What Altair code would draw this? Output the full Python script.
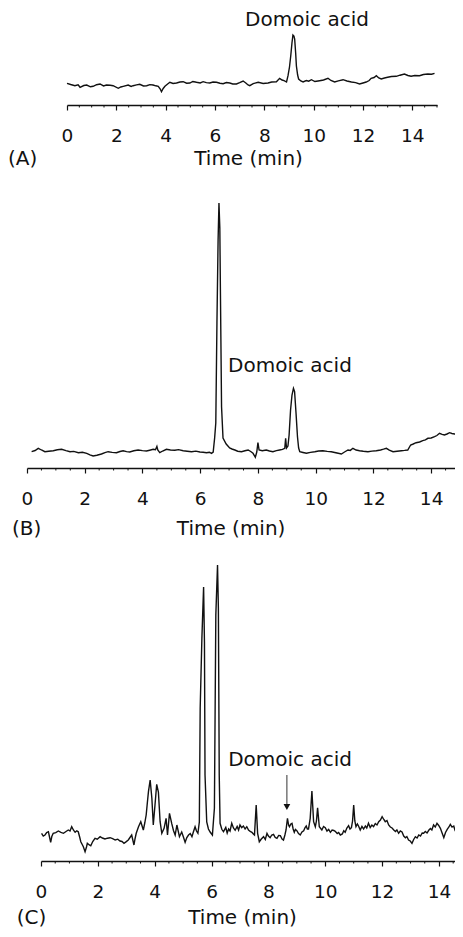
import altair as alt
import pandas as pd

# ---------------- data (retention time in min, detector response in arbitrary units) -------------
A_time = [0.0, 0.15, 0.32, 0.45, 0.53, 0.68, 0.8, 0.95, 1.06, 1.2, 1.34, 1.48, 1.6, 1.75, 1.87,
          2.08, 2.18, 2.28, 2.48, 2.6, 2.68, 2.82, 2.95, 3.1, 3.23, 3.36, 3.49, 3.6, 3.7, 3.78,
          3.83, 3.9, 3.97, 4.08, 4.17, 4.3, 4.44, 4.58, 4.71, 4.85, 4.98, 5.1, 5.25, 5.4, 5.52,
          5.65, 5.79, 5.92, 6.06, 6.2, 6.33, 6.46, 6.6, 6.72, 6.87, 7.0, 7.14, 7.25, 7.34, 7.41,
          7.55, 7.75, 7.95, 8.15, 8.3, 8.49, 8.62, 8.72, 8.8, 8.9, 8.96, 9.02, 9.07, 9.12, 9.16,
          9.2, 9.23, 9.27, 9.3, 9.35, 9.39, 9.48, 9.57, 9.7, 9.8, 9.91, 10.05, 10.24, 10.4, 10.58,
          10.7, 10.85, 11.0, 11.19, 11.35, 11.53, 11.7, 11.86, 12.0, 12.13, 12.25, 12.33, 12.45,
          12.54, 12.64, 12.74, 12.87, 13.0, 13.15, 13.35, 13.5, 13.68, 13.82, 13.95, 14.1, 14.29,
          14.45, 14.63, 14.78, 14.9]
A_resp = [21.7, 20.5, 19.3, 20.2, 17.7, 19.5, 20, 18.2, 18.7, 20.3, 21, 19.1, 20, 19.8, 19.3,
          16.7, 18.0, 18.7, 20, 18.6, 19.3, 20.1, 20.7, 19.0, 19.3, 20.4, 20, 19.2, 18.7, 16.0,
          13.3, 16.5, 18.7, 21.0, 22.7, 21.5, 22, 23.0, 23.3, 21.8, 22, 23.5, 22.7, 22.0, 23.3,
          22.4, 22, 23.0, 22.7, 21.8, 21.3, 22.5, 22, 21.0, 21, 22.3, 24, 22.0, 20, 19.3,
          21.4, 22.7, 21.5, 22, 23.0, 23.3, 26.7, 25.0, 24.3, 23, 29.3, 38, 49, 62, 70,
          69, 66, 52, 39, 30, 26, 24.0, 23, 24.5, 23.8, 25.3, 23.5, 24.3, 25.0, 26.7,
          24.5, 23, 24.2, 25.3, 24.0, 23, 22.4, 21, 22.0, 23, 24.5, 26.7, 27.5,
          29.3, 27.0, 26, 27.0, 27.7, 28.5, 28.7, 29.8, 31, 29.5, 28.7, 29.5, 29.3,
          30.5, 31, 30.8, 31.7]

B_time = [0.16, 0.28, 0.39, 0.5, 0.62, 0.75, 0.91, 1.05, 1.2, 1.35, 1.49, 1.62, 1.78, 1.92, 2.07,
          2.18, 2.29, 2.42, 2.58, 2.7, 2.81, 2.95, 3.1, 3.22, 3.33, 3.45, 3.56, 3.7, 3.85, 4.0,
          4.14, 4.25, 4.37, 4.45, 4.5, 4.53, 4.6, 4.7, 4.83, 4.97, 5.12, 5.25, 5.41, 5.55, 5.7,
          5.85, 5.99, 6.1, 6.22, 6.32, 6.39, 6.45, 6.5, 6.54, 6.58, 6.62, 6.65, 6.68, 6.7, 6.74,
          6.79, 6.9, 7.02, 7.1, 7.2, 7.3, 7.43, 7.55, 7.66, 7.75, 7.83, 7.91, 7.96, 8.0, 8.04,
          8.15, 8.29, 8.4, 8.52, 8.64, 8.75, 8.85, 8.93, 8.96, 8.99, 9.04, 9.08, 9.13, 9.18, 9.23,
          9.25, 9.27, 9.32, 9.37, 9.41, 9.45, 9.56, 9.68, 9.82, 9.97, 10.1, 10.25, 10.4, 10.54,
          10.7, 10.89, 11.0, 11.12, 11.2, 11.29, 11.4, 11.52, 11.65, 11.81, 11.95, 12.1, 12.25,
          12.35, 12.45, 12.55, 12.68, 12.82, 12.97, 13.08, 13.19, 13.29, 13.38, 13.48, 13.6,
          13.71, 13.8, 13.89, 14.0, 14.12, 14.2, 14.29, 14.38, 14.46, 14.55, 14.64, 14.72, 14.81,
          14.9, 14.98]
B_resp = [16.3, 17.5, 19.7, 18.0, 16.3, 16.8, 17.3, 18.2, 18.7, 17.4, 16.3, 16.6, 15.3, 15.8, 14.7,
          13.2, 12, 12.8, 14, 15.4, 16.3, 15.6, 15.3, 16.5, 17.3, 16.4, 16, 17.2, 18, 17.4,
          17, 17.8, 18.7, 18.2, 21.5, 18.0, 15.3, 17.0, 18.7, 18.0, 17.7, 18.4, 17.3, 16.8, 16.3,
          16.9, 16, 15.8, 15.3, 15.8, 14.7, 16, 30, 45, 145, 228, 265, 240, 178, 61,
          30, 24, 20, 19.0, 18, 16.8, 16.3, 17.2, 18, 16.5, 14.7, 10.7, 16.0, 25.3, 18,
          17.2, 18, 17.0, 16.3, 17.4, 18, 18.6, 19.7, 29.7, 20.0, 22, 33, 58, 73, 79.7,
          78, 76.3, 54.7, 31.3, 20, 16.3, 15.5, 14.7, 15.6, 16.3, 17.0, 17.3, 16.6, 16.3,
          15.2, 14, 16.0, 18, 17.6, 19.7, 18.0, 17.3, 16.8, 16.3, 16.9, 17.3, 18.0,
          18.8, 19.7, 17.8, 16.3, 16.8, 17.3, 17.6, 18, 23, 24.0, 25.3, 26.0,
          27.3, 28.2, 29.7, 30.0, 31.3, 32.5, 34.7, 33.6, 33, 34.0, 35.3, 34.5, 34,
          33.8, 33]

C_time = [0.02, 0.08, 0.14, 0.2, 0.26, 0.3, 0.34, 0.38, 0.43, 0.52, 0.61, 0.7, 0.79, 0.88, 0.96,
          1.02, 1.08, 1.14, 1.2, 1.26, 1.31, 1.36, 1.4, 1.45, 1.49, 1.55, 1.6, 1.63, 1.7, 1.75,
          1.82, 1.9, 1.98, 2.08, 2.16, 2.25, 2.34, 2.43, 2.52, 2.61, 2.7, 2.78, 2.85, 2.92, 3.0,
          3.07, 3.13, 3.19, 3.23, 3.27, 3.31, 3.35, 3.43, 3.51, 3.6, 3.65, 3.7, 3.74, 3.78, 3.84,
          3.9, 3.95, 4.01, 4.07, 4.13, 4.19, 4.25, 4.33, 4.4, 4.45, 4.52, 4.6, 4.66, 4.72, 4.78,
          4.87, 4.95, 5.01, 5.07, 5.13, 5.19, 5.25, 5.31, 5.36, 5.42, 5.47, 5.52, 5.57, 5.6, 5.66,
          5.72, 5.75, 5.77, 5.83, 5.89, 5.95, 6.03, 6.1, 6.15, 6.21, 6.24, 6.27, 6.3, 6.36, 6.42,
          6.5, 6.55, 6.6, 6.65, 6.71, 6.77, 6.83, 6.9, 6.95, 7.0, 7.06, 7.12, 7.18, 7.24, 7.3,
          7.36, 7.42, 7.47, 7.51, 7.57, 7.62, 7.68, 7.75, 7.83, 7.89, 7.95, 8.0, 8.06, 8.12, 8.18,
          8.24, 8.3, 8.36, 8.42, 8.48, 8.53, 8.58, 8.62, 8.67, 8.71, 8.74, 8.79, 8.83, 8.87, 8.91,
          8.95, 9.0, 9.06, 9.12, 9.18, 9.24, 9.29, 9.33, 9.37, 9.41, 9.47, 9.53, 9.59, 9.65, 9.69,
          9.73, 9.79, 9.84, 9.88, 9.94, 10.0, 10.06, 10.12, 10.18, 10.24, 10.3, 10.35, 10.42,
          10.47, 10.53, 10.6, 10.65, 10.7, 10.76, 10.82, 10.87, 10.92, 10.96, 11.0, 11.04, 11.08,
          11.13, 11.17, 11.23, 11.29, 11.35, 11.41, 11.46, 11.52, 11.58, 11.64, 11.7, 11.76,
          11.82, 11.88, 11.94, 12.0, 12.06, 12.11, 12.17, 12.23, 12.29, 12.35, 12.41, 12.47,
          12.52, 12.58, 12.64, 12.7, 12.76, 12.82, 12.87, 12.93, 12.99, 13.05, 13.11, 13.17,
          13.23, 13.29, 13.35, 13.41, 13.46, 13.52, 13.58, 13.64, 13.7, 13.75, 13.81, 13.87,
          13.93, 13.99, 14.05, 14.11, 14.17, 14.23, 14.29, 14.35, 14.4, 14.46, 14.52, 14.56,
          14.6, 14.65, 14.7, 14.75, 14.79]
C_resp = [27.7, 25.0, 26, 28.5, 29.3, 24.0, 18.7, 24.5, 27.7, 28.4, 30, 28.6, 27.7, 29.5, 31,
          30.0, 34.3, 31.0, 28.7, 30.2, 29.3, 24.0, 19.3, 16.5, 14.3, 9.3, 14.0, 17.7, 16.0, 15.3,
          19.5, 22.7, 21.8, 24.3, 23.0, 22, 22.8, 23.3, 22.4, 21, 21.8, 20, 19.5, 17.7, 19.4,
          21, 23.5, 26, 21.0, 16, 22.5, 27.7, 34.3, 39.3, 31, 38.0, 46, 58, 69.3, 81,
          62.7, 36, 56, 76.7, 69, 39.3, 27.7, 32.7, 42.7, 26, 47.7, 37.3, 30.5, 26, 36,
          24.3, 29, 24.0, 18.7, 23.5, 26, 27.5, 24.3, 29.0, 34.3, 30.0, 27.7, 39, 153, 223,
          274, 219, 86, 39, 32.0, 29, 26, 52.7, 246, 296, 252.7, 86, 37.7, 31.7, 29.3,
          33.5, 28.0, 32, 30.0, 37.7, 33.0, 30.7, 34.5, 31.0, 36, 33.4, 35.0, 32, 34.3, 31,
          29.5, 28.7, 27.0, 26, 56, 27.7, 19.3, 22.0, 24.3, 21.5, 27.7, 25.0, 23.3, 26.0, 26.7,
          23.5, 22.7, 25.6, 25.3, 22.0, 21, 26.0, 31, 42.7, 36.0, 34.3, 37.0, 37.7, 32.0, 28.7,
          31.5, 30.3, 27.5, 26, 29.0, 30.3, 33.5, 35, 32.0, 32, 42.7, 70, 39.3, 34.3, 40.0,
          53.3, 34.3, 32.5, 31, 34.5, 33.3, 30.0, 31.6, 28.7, 31.0, 30.5, 29.7, 27.5,
          28.5, 26, 27.0, 30.2, 28.7, 33.0, 35.3, 32.0, 33.3, 40.0, 56, 40.0, 34.3,
          37.0, 35, 31.0, 34.5, 32, 35.0, 33.0, 37.7, 33.5, 36.0, 34.3, 37.5,
          36.0, 39.3, 41.0, 44.3, 41.5, 39.3, 40.5, 36, 34.0, 33.0, 31, 29.5,
          31.0, 27.7, 30.0, 29, 25.0, 23.3, 24.5, 21, 20.0, 17.7, 21.5, 24.3,
          23.0, 26, 25.0, 28.0, 27.7, 29.5, 28.0, 30.7, 32.5, 31.0, 36, 34.0,
          37.7, 35.5, 32.7, 28.0, 23.3, 28.5, 31.7, 34.0, 36.7, 34.0, 35, 31.0,
          28.7, 30.5, 32.7, 36.5, 39.3]

major_ticks = [0, 2, 4, 6, 8, 10, 12, 14]
minor_ticks = [0.5, 1, 1.5, 2.5, 3, 3.5, 4.5, 5, 5.5, 6.5, 7, 7.5, 8.5, 9, 9.5,
               10.5, 11, 11.5, 12.5, 13, 13.5, 14.5, 15]

# annotations (time, response)
A_notes = {"t": [9.73], "h": [79], "text": ["Domoic acid"]}
B_notes = {"t": [9.11], "h": [96], "text": ["Domoic acid"]}
C_notes = {"t": [8.76], "h": [95], "text": ["Domoic acid"]}
C_arrow = {"t": [8.65], "top": [86], "bottom": [57], "head": [54]}

panel_letters = ["(A)", "(B)", "(C)"]
axis_title = "Time (min)"

# ---------------- layout ----------------
W, H = 447, 921
FONT = "DejaVu Sans"
FS_TEXT = 20
FS_TICK = 18.5
INK = "#111111"


def panel(times, resp, notes, letter, xr, axis_y, title_t, letter_t, title_h, arrow=None):
    """Return a list of flat layers; every layer carries the same explicit scales."""
    xs = alt.Scale(domain=[0, 15], range=xr, nice=False, zero=False)
    ys = alt.Scale(domain=[0, 100], range=[axis_y, axis_y - 100], nice=False, zero=False)

    def X(f):
        return alt.X(f, scale=xs, axis=None)

    def Y(f):
        return alt.Y(f, scale=ys, axis=None)

    df = pd.DataFrame({"t": times, "h": resp})
    trace = alt.Chart(df).mark_line(color=INK, strokeWidth=1.4).encode(
        x=alt.X("t:Q", scale=xs, axis=alt.Axis(
            orient="bottom", offset=axis_y - H, values=major_ticks, title=None,
            domain=True, domainColor=INK, domainWidth=1.5,
            tickSize=5, tickWidth=1.2, tickColor=INK,
            labelFont=FONT, labelFontSize=FS_TICK, labelColor=INK,
            labelPadding=16, labelFlush=False, labelOverlap=False, grid=False)),
        y=Y("h:Q"),
    )
    minor = alt.Chart(pd.DataFrame({"t": minor_ticks, "h": [0] * len(minor_ticks),
                                    "h2": [-2.5] * len(minor_ticks)})).mark_rule(
        color=INK, strokeWidth=1).encode(x=X("t:Q"), y=Y("h:Q"), y2="h2:Q")
    label = alt.Chart(pd.DataFrame(notes)).mark_text(
        font=FONT, fontSize=FS_TEXT, color=INK, align="center", baseline="alphabetic").encode(
        x=X("t:Q"), y=Y("h:Q"), text="text:N")
    title = alt.Chart(pd.DataFrame({"t": [title_t], "h": [title_h], "text": [axis_title]})).mark_text(
        font=FONT, fontSize=FS_TEXT, color=INK, align="center", baseline="alphabetic").encode(
        x=X("t:Q"), y=Y("h:Q"), text="text:N")
    tag = alt.Chart(pd.DataFrame({"t": [letter_t], "h": [title_h], "text": [letter]})).mark_text(
        font=FONT, fontSize=FS_TEXT, color=INK, align="left", baseline="alphabetic").encode(
        x=X("t:Q"), y=Y("h:Q"), text="text:N")
    layers = [trace, minor, label, title, tag]
    if arrow is not None:
        adf = pd.DataFrame(arrow)
        shaft = alt.Chart(adf).mark_rule(color="#333333", strokeWidth=1).encode(
            x=X("t:Q"), y=Y("top:Q"), y2="bottom:Q")
        head = alt.Chart(adf).mark_point(shape="triangle-down", filled=True, size=45,
                                         color=INK, opacity=1).encode(
            x=X("t:Q"), y=Y("head:Q"))
        layers += [shaft, head]
    return layers


# pixel ranges of the plot (page position minus the 8px body margin)
layersA = panel(A_time, A_resp, A_notes, panel_letters[0], [59, 429], 97, 7.36, -2.39, -60)
layersB = panel(B_time, B_resp, B_notes, panel_letters[1], [19, 452], 460, 7.07, -0.52, -67)
layersC = panel(C_time, C_resp, C_notes, panel_letters[2], [33, 459.4], 853, 7.09, -0.855, -63,
                arrow=C_arrow)

chart = alt.layer(*(layersA + layersB + layersC)).resolve_scale(
    x="independent", y="independent").resolve_axis(
    x="independent", y="independent").properties(
    width=W, height=H, padding=0, autosize=alt.AutoSizeParams(type="none"),
    background="white").configure_view(stroke=None)

chart.save("out.html", embed_options={"renderer": "svg", "actions": False})
